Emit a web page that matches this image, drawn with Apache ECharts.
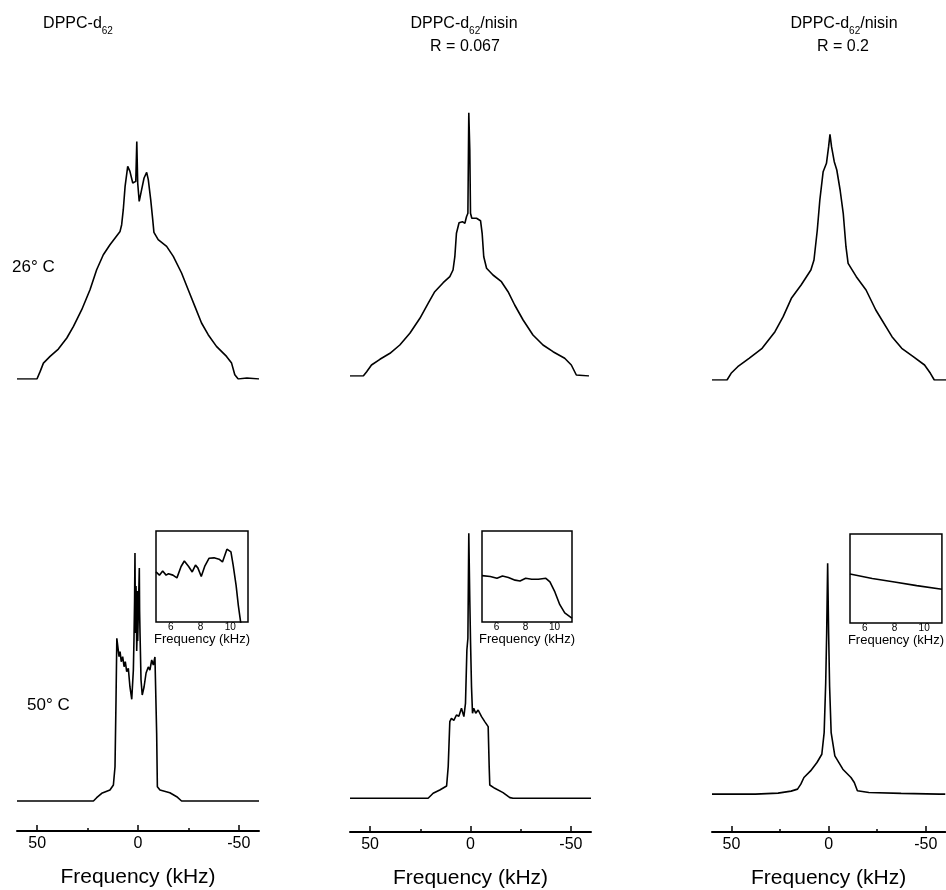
<!DOCTYPE html>
<html>
<head>
<meta charset="utf-8">
<script src="https://cdn.jsdelivr.net/npm/echarts@6/dist/echarts.min.js"></script>
<style>
  html, body { margin: 0; padding: 0; background: #fff; }
  #chart { width: 946px; height: 890px; }
</style>
</head>
<body>
<div id="chart"></div>
<script>
// frequency in kHz, intensity in px above baseline
const dppc26 = [[60,0],[50.1,0],[48.5,7.6],[46.9,15.9],[43.6,22.6],[39.5,29.9],[35.3,41],[32,52.6],[27.9,69.3],[23.8,89.3],[20.5,109.3],[17.2,124.3],[13.9,134.3],[8.9,147.6],[8.1,154.3],[7.3,169.3],[6.4,192.6],[5.1,212.6],[4.0,207.6],[2.6,196],[1.8,194.3],[1.1,197.6],[0.6,237.6],[0.15,196],[-0.6,177.6],[-1.8,189.3],[-3.0,201],[-4.3,206.6],[-5.1,199.3],[-6.3,179.3],[-7.3,159.3],[-7.9,146.6],[-10,139.3],[-14.2,132.6],[-17.5,122.6],[-21.6,106],[-24.9,89.3],[-28.2,72.6],[-31.5,56],[-34.8,44.3],[-38.9,32.6],[-43.9,22.6],[-46.4,15.9],[-48,4.3],[-49.7,0],[-54,1],[-60,0]];
const nisin067_26 = [[60,0],[53.4,0],[51.7,4.3],[49.3,11],[45.1,16.7],[40.1,22.7],[35.2,31],[30.2,42.7],[25.2,57.7],[21.1,72.7],[17.8,84.3],[13.6,93.3],[10.3,99.3],[8.7,106],[7.8,119.3],[7.0,142.7],[5.7,153.3],[4.0,154.3],[2.8,152.7],[2.0,159.3],[1.3,162.7],[0.85,263.3],[0.35,226],[0,162.7],[-0.65,157.7],[-3.0,157.7],[-5.0,155.3],[-5.8,142.7],[-6.6,119.3],[-8.0,107.7],[-11.2,101],[-15.4,94.3],[-18.7,84.3],[-22,71],[-26.2,56],[-31.1,41],[-36.1,31],[-41.1,24.3],[-46.9,17.7],[-50.2,11],[-52.7,1],[-59,0]];
const nisin2_26 = [[60,0],[52.3,0],[50.2,6.7],[46.8,13.3],[41,21.7],[34.3,31.7],[27.7,48.3],[23.5,63.3],[19.3,81.7],[14.3,95],[9.3,110],[7.7,120],[6,150],[4.7,180],[3,208.3],[1.3,216.7],[0.2,233.3],[-0.5,245.7],[-1.3,233.3],[-2.7,218.3],[-4,210],[-5.7,190],[-7.3,166.7],[-8.7,133.3],[-9.8,116.7],[-14,103.3],[-19,90],[-24,70],[-32.3,43.3],[-37.3,31.7],[-43.2,23.3],[-49,15],[-52,6.7],[-54,0],[-60,0]];

const dppc50 = [[60,0],[22.1,0],[20.5,3.3],[18,7.7],[13.9,11],[12.2,16],[11.4,34.3],[10.9,101],[10.5,162.7],[10.0,154.3],[9.4,144.3],[8.9,149.3],[8.3,139.3],[7.6,144.3],[6.9,134.3],[6.3,139.3],[5.6,129.3],[4.8,132.7],[4.0,114.3],[3.1,101.7],[2.3,131],[2.0,161],[1.7,200],[1.5,248],[1.3,180],[1.15,168],[1.0,215],[0.8,201],[0.65,150],[0.5,161],[0.3,210],[0.15,160],[0,174],[-0.3,200],[-0.65,233],[-0.8,190],[-1.0,168],[-1.5,121],[-2.1,106],[-3.0,114],[-4.0,128],[-5.1,134],[-5.9,131],[-6.8,141],[-7.6,136],[-8.4,144],[-8.9,144],[-9.25,68],[-9.6,14.3],[-10.9,11],[-15.8,8.3],[-19.2,4.3],[-21.6,0],[-60,0]];
const nisin067_50 = [[60,0],[21.1,0],[18.6,5],[15.3,8.3],[11.9,12.3],[11.1,31.7],[10.3,76.7],[9.5,80],[8.3,78],[7.0,83.3],[5.8,82],[4.5,90],[3.3,81.7],[2.5,95],[1.8,148.3],[1.3,160],[0.85,265],[0.35,198.3],[0,158.3],[-0.5,111.7],[-1.0,85],[-1.6,90],[-2.6,85],[-3.8,88.3],[-5.5,81.7],[-7.1,76.7],[-8.8,71.7],[-9.3,31.7],[-9.6,13.3],[-12.1,10],[-16.2,5.7],[-19.6,0.7],[-21.2,0],[-60,0]];
const nisin2_50 = [[60,0],[37.7,0],[26,1],[19.3,3],[16,5],[14.3,10],[12.7,16.7],[9.3,23.3],[6,31.7],[3.5,40],[2.3,61.7],[1.5,111.7],[1,161.7],[0.5,231.7],[0,161.7],[-0.5,108.3],[-1.3,61.7],[-3.2,38.3],[-7.3,25],[-11.5,16.7],[-13.2,11.7],[-14.8,3.3],[-20.7,1.7],[-37.3,0.7],[-57,0],[-60,0]];

// insets: frequency (kHz) vs relative intensity
const inset1 = [[5.0,0.55],[5.23,0.515],[5.45,0.56],[5.68,0.515],[5.84,0.53],[6.14,0.515],[6.41,0.485],[6.69,0.61],[6.91,0.67],[7.2,0.61],[7.44,0.55],[7.66,0.625],[7.82,0.595],[8.05,0.5],[8.28,0.61],[8.57,0.7],[8.91,0.705],[9.25,0.69],[9.48,0.66],[9.78,0.8],[9.89,0.82],[10.05,0.77],[10.2,0.625],[10.4,0.4],[10.55,0.18],[10.72,-0.02]];
const inset2 = [[5.0,0.51],[5.57,0.5],[6.03,0.48],[6.41,0.505],[6.82,0.49],[7.28,0.46],[7.62,0.45],[8.01,0.48],[8.42,0.47],[8.88,0.47],[9.4,0.48],[9.68,0.44],[10.02,0.33],[10.36,0.19],[10.7,0.1],[11.12,0.05],[11.2,0.045]];
const inset3 = [[5,0.55],[6.5,0.5],[8,0.46],[9.5,0.42],[11.2,0.38]];

const mainTicks = [50, 0, -50];
const minorTicks = [25, -25];
const insetTicks = [6, 8, 10];

const FONT = 'Liberation Sans, Arial, Helvetica, sans-serif';
const chart = echarts.init(document.getElementById('chart'));

// panel boxes: [left, width, top, height, yMin, yMax]
const panels = [
  [17, 242, 100, 279, 0, 279],
  [350, 241, 100, 276, 0, 276],
  [712, 240, 100, 280, 0, 280],
  [17, 242, 520, 311, -30, 281],
  [350, 241, 520, 312, -33.7, 278.3],
  [712, 240, 520, 313, -38, 275]
];
const insets = [
  [156, 92, 531, 91],
  [482, 90, 531, 91],
  [850, 92, 534, 89]
];
const spectra = [dppc26, nisin067_26, nisin2_26, dppc50, nisin067_50, nisin2_50];
const insetData = [inset1, inset2, inset3];

const grid = [], xAxis = [], yAxis = [], series = [];

panels.forEach((p, i) => {
  grid.push({ left: p[0], width: p[1], top: p[2], height: p[3] });
  const bottomRow = i >= 3;
  xAxis.push({
    type: 'value', gridIndex: i, min: -60, max: 60, inverse: true,
    show: bottomRow, position: 'bottom',
    splitLine: { show: false },
    axisLine: { show: true, onZero: false, lineStyle: { color: '#000', width: 2 } },
    axisTick: { show: true, inside: true, length: 6, customValues: mainTicks, lineStyle: { color: '#000', width: 1.5 } },
    axisLabel: { customValues: mainTicks, color: '#000', fontSize: 16, fontFamily: FONT, margin: 5 },
    name: 'Frequency (kHz)', nameLocation: 'middle', nameGap: 36,
    nameTextStyle: { color: '#000', fontSize: 21, fontFamily: FONT }
  });
  yAxis.push({ type: 'value', gridIndex: i, min: p[4], max: p[5], show: false, splitLine: { show: false } });
  series.push({
    type: 'line', xAxisIndex: xAxis.length - 1, yAxisIndex: yAxis.length - 1,
    data: spectra[i], showSymbol: false, silent: true,
    lineStyle: { color: '#000', width: 1.6 }
  });
});

// minor ticks at +-25 on the bottom axes
[3, 4, 5].forEach(gi => {
  xAxis.push({
    type: 'value', gridIndex: gi, min: -60, max: 60, inverse: true, position: 'bottom',
    splitLine: { show: false }, axisLine: { show: false, onZero: false }, axisLabel: { show: false },
    axisTick: { show: true, inside: true, length: 3, customValues: minorTicks, lineStyle: { color: '#000', width: 1.5 } }
  });
});

insets.forEach((b, k) => {
  const gi = grid.length;
  grid.push({ left: b[0], width: b[1], top: b[2], height: b[3], show: true, borderColor: '#000', borderWidth: 1.5, backgroundColor: '#fff', z: 5 });
  xAxis.push({
    type: 'value', gridIndex: gi, min: 5, max: 11.2, position: 'bottom',
    splitLine: { show: false },
    axisLine: { show: false, onZero: false },
    axisTick: { show: true, inside: true, length: 3, customValues: insetTicks, lineStyle: { color: '#000' } },
    axisLabel: { customValues: insetTicks, color: '#000', fontSize: 10, fontFamily: FONT, margin: 0 },
    name: 'Frequency (kHz)', nameLocation: 'middle', nameGap: 10,
    nameTextStyle: { color: '#000', fontSize: 13, fontFamily: FONT }
  });
  yAxis.push({ type: 'value', gridIndex: gi, min: 0, max: 1, show: false, splitLine: { show: false } });
  series.push({
    type: 'line', xAxisIndex: xAxis.length - 1, yAxisIndex: yAxis.length - 1,
    data: insetData[k], showSymbol: false, silent: true, z: 6,
    lineStyle: { color: '#000', width: 1.6 }
  });
});

const rich = {
  a: { fontSize: 16, fontFamily: FONT, color: '#000', lineHeight: 24 },
  b: { fontSize: 10, fontFamily: FONT, color: '#000', lineHeight: 10, verticalAlign: 'bottom' }
};
const txt = (x, y, text, align, size) => ({
  type: 'text', x: x, y: y, silent: true,
  style: { text: text, align: align || 'center', verticalAlign: 'middle', fill: '#000', font: (size || 16) + 'px ' + FONT }
});

chart.setOption({
  backgroundColor: '#fff',
  animation: false,
  grid: grid,
  xAxis: xAxis,
  yAxis: yAxis,
  series: series,
  graphic: [
    { type: 'text', x: 78, y: 24, silent: true, style: { text: '{a|DPPC-d}{b|62}', align: 'center', verticalAlign: 'middle', rich: rich } },
    { type: 'text', x: 464, y: 24, silent: true, style: { text: '{a|DPPC-d}{b|62}{a|/nisin}', align: 'center', verticalAlign: 'middle', rich: rich } },
    txt(465, 47, 'R = 0.067'),
    { type: 'text', x: 844, y: 24, silent: true, style: { text: '{a|DPPC-d}{b|62}{a|/nisin}', align: 'center', verticalAlign: 'middle', rich: rich } },
    txt(843, 47, 'R = 0.2'),
    txt(12, 267, '26° C', 'left', 17),
    txt(27, 705, '50° C', 'left', 17)
  ]
});
</script>
</body>
</html>
